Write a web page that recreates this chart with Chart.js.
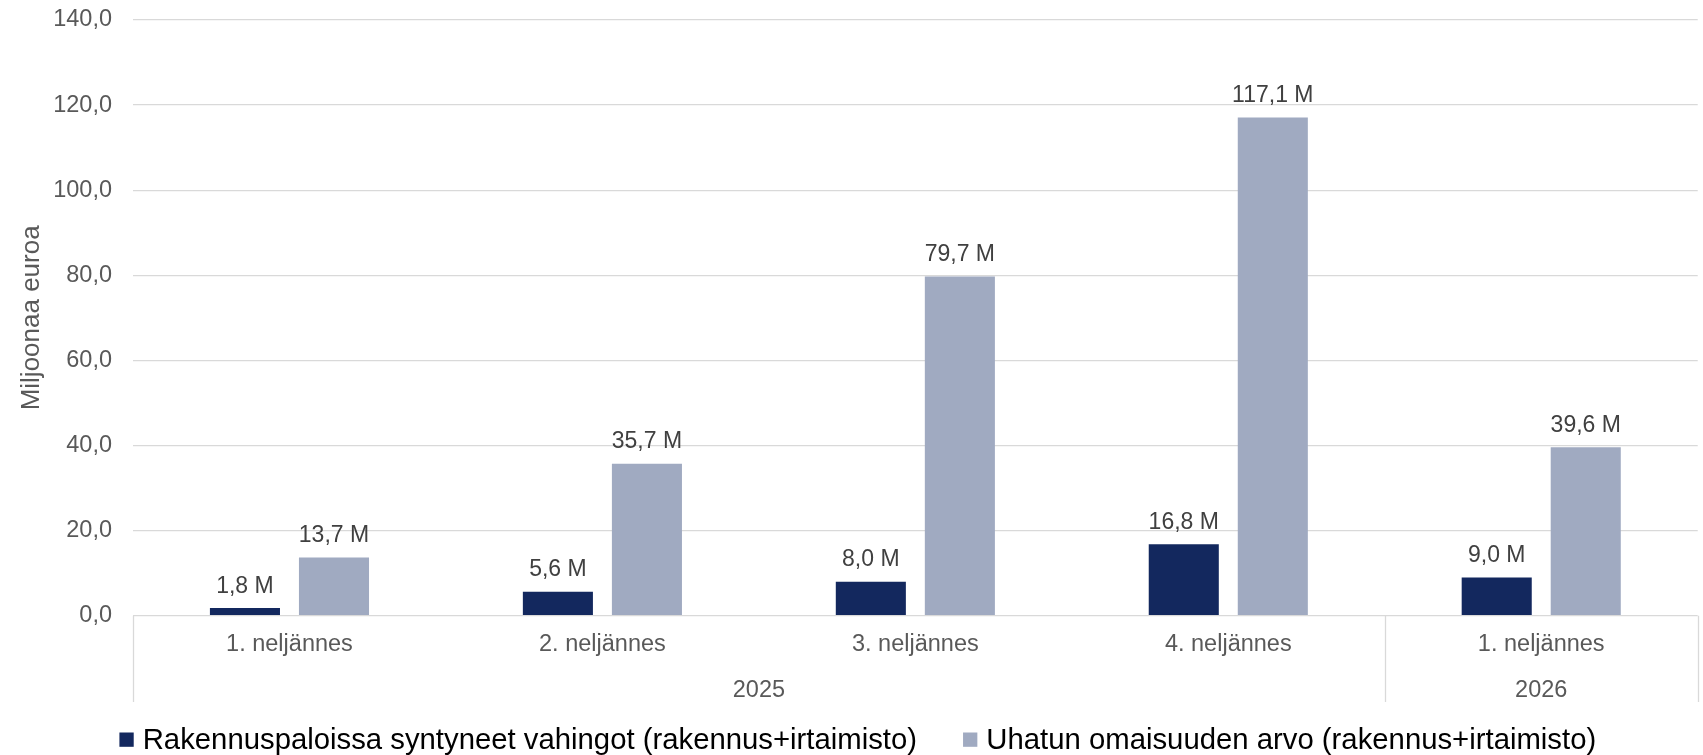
<!DOCTYPE html>
<html><head><meta charset="utf-8">
<script src="https://cdn.jsdelivr.net/npm/chart.js@4.4.1/dist/chart.umd.min.js"></script>
<style>html,body{margin:0;padding:0;background:#fff;}#wrap{width:1703px;height:755px;}</style>
</head><body><div id="wrap"><canvas id="c" width="1703" height="755"></canvas></div>
<script>
const quarters = ['1. neljännes','2. neljännes','3. neljännes','4. neljännes','1. neljännes'];
const years = ['2025','2025','2025','2025','2026'];
const seriesNames = ['Rakennuspaloissa syntyneet vahingot (rakennus+irtaimisto)','Uhatun omaisuuden arvo (rakennus+irtaimisto)'];
const damages = [1.8, 5.6, 8.0, 16.8, 9.0];
const threatened = [13.7, 35.7, 79.7, 117.1, 39.6];
const yMin = 0, yMax = 140, yStep = 20;
const yTitle = 'Miljoonaa euroa';
const colors = ['#13285E', '#A0AAC1'];

const FONT = "'Liberation Sans', Arial, sans-serif";
const fmt = v => v.toFixed(1).replace('.', ',');

const dataLabels = {
  id: 'dataLabels',
  afterDatasetsDraw(chart) {
    const ctx = chart.ctx;
    ctx.save();
    ctx.font = '23px ' + FONT;
    ctx.fillStyle = '#404040';
    ctx.textAlign = 'center';
    ctx.textBaseline = 'alphabetic';
    chart.data.datasets.forEach((ds, i) => {
      chart.getDatasetMeta(i).data.forEach((el, j) => {
        ctx.fillText(fmt(ds.data[j]) + ' M', el.x, el.y - 15.5);
      });
    });
    ctx.restore();
  }
};

const groupAxis = {
  id: 'groupAxis',
  afterDraw(chart) {
    const ctx = chart.ctx, x = chart.scales.x, ca = chart.chartArea;
    const bottom = ca.bottom + 86.3;
    const bound = i => {
      if (i <= 0) return ca.left;
      if (i >= years.length) return ca.right;
      return (x.getPixelForTick(i - 1) + x.getPixelForTick(i)) / 2;
    };
    const runs = [];
    years.forEach((y, i) => {
      if (runs.length && runs[runs.length - 1].label === y) runs[runs.length - 1].end = i;
      else runs.push({label: y, start: i, end: i});
    });
    ctx.save();
    ctx.strokeStyle = '#d9d9d9';
    ctx.lineWidth = 1.3;
    const edges = new Set([0]);
    runs.forEach(r => edges.add(r.end + 1));
    edges.forEach(e => {
      const px = Math.round(bound(e)) + 0.5;
      ctx.beginPath(); ctx.moveTo(px, ca.bottom); ctx.lineTo(px, bottom); ctx.stroke();
    });
    ctx.font = '23.5px ' + FONT;
    ctx.fillStyle = '#595959';
    ctx.textAlign = 'center';
    ctx.textBaseline = 'alphabetic';
    runs.forEach(r => {
      const cx = (bound(r.start) + bound(r.end + 1)) / 2;
      ctx.fillText(r.label, cx, ca.bottom + 81.5);
    });
    // legend
    ctx.font = '29.3px ' + FONT;
    ctx.textAlign = 'left';
    const box = 14.3, gapBox = 9, gapItem = 46;
    const widths = chart.data.datasets.map(d => ctx.measureText(d.label).width);
    let total = 0;
    widths.forEach((w, i) => { total += box + gapBox + w + (i ? gapItem : 0); });
    let lx = 857.8 - total / 2;
    chart.data.datasets.forEach((d, i) => {
      ctx.fillStyle = d.backgroundColor;
      ctx.fillRect(lx, 732.5, box, box);
      ctx.fillStyle = '#000';
      ctx.fillText(d.label, lx + box + gapBox, 748.5);
      lx += box + gapBox + widths[i] + gapItem;
    });
    ctx.restore();
  }
};

new Chart(document.getElementById('c'), {
  type: 'bar',
  data: {
    labels: quarters,
    datasets: [
      {label: seriesNames[0], data: damages, backgroundColor: colors[0]},
      {label: seriesNames[1], data: threatened, backgroundColor: colors[1]}
    ]
  },
  options: {
    responsive: false,
    animation: false,
    devicePixelRatio: 1,
    layout: {padding: {top: 20, left: 0, right: 5.3, bottom: 53}},
    datasets: {bar: {categoryPercentage: 0.569, barPercentage: 0.787}},
    plugins: {legend: {display: false}, tooltip: {enabled: false}},
    scales: {
      x: {
        grid: {display: false, drawTicks: false},
        border: {display: false},
        ticks: {font: {family: FONT, size: 23.5}, color: '#595959', padding: 15, maxRotation: 0, autoSkip: false},
        afterFit(s) { s.height = 86.3; s.paddingLeft = 0; s.paddingRight = 0; }
      },
      y: {
        min: yMin, max: yMax,
        grid: {color: '#d9d9d9', lineWidth: 1.3, drawTicks: false},
        border: {display: false},
        ticks: {stepSize: yStep, font: {family: FONT, size: 23.5}, color: '#595959', padding: 21, callback: v => fmt(v)},
        title: {display: true, text: yTitle, font: {family: FONT, size: 26}, color: '#595959', padding: {top: 16, bottom: 0}},
        afterFit(s) { s.width = 133; s.paddingTop = 0; s.paddingBottom = 0; }
      }
    }
  },
  plugins: [dataLabels, groupAxis]
});
</script></body></html>
